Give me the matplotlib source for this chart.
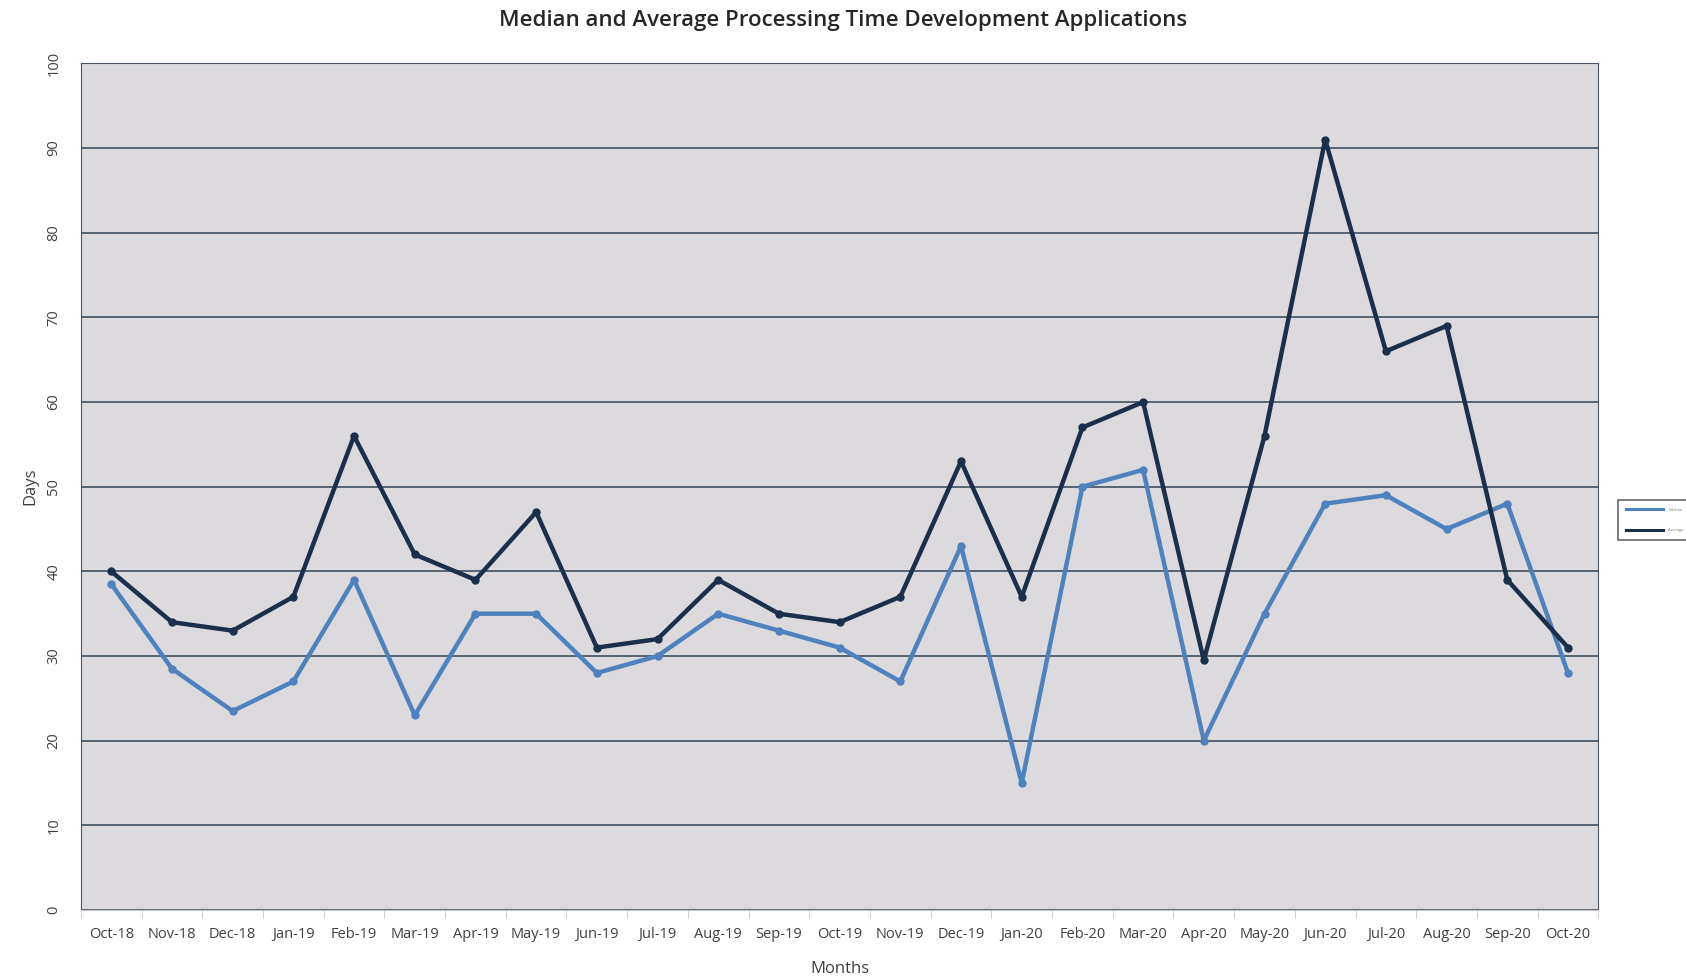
import matplotlib.pyplot as plt
from matplotlib.lines import Line2D
import numpy as np

months = ["Oct-18", "Nov-18", "Dec-18", "Jan-19", "Feb-19", "Mar-19", "Apr-19", "May-19",
          "Jun-19", "Jul-19", "Aug-19", "Sep-19", "Oct-19", "Nov-19", "Dec-19", "Jan-20",
          "Feb-20", "Mar-20", "Apr-20", "May-20", "Jun-20", "Jul-20", "Aug-20", "Sep-20", "Oct-20"]
median_days = [38.5, 28.5, 23.5, 27, 39, 23, 35, 35, 28, 30, 35, 33, 31, 27, 43, 15,
               50, 52, 20, 35, 48, 49, 45, 48, 28]
average_days = [40, 34, 33, 37, 56, 42, 39, 47, 31, 32, 39, 35, 34, 37, 53, 37,
                57, 60, 29.5, 56, 91, 66, 69, 39, 31]

plt.rcParams['font.family'] = ['Open Sans', 'DejaVu Sans']

fig = plt.figure(figsize=(16.86, 9.76), dpi=100)
ax = fig.add_axes([0.048, 0.0676, 0.9, 0.8674])
ax.set_facecolor('#dcdadd')

x = np.arange(len(months))
ax.plot(x, median_days, color='#4f81bd', lw=3.2, marker='o', ms=5)
ax.plot(x, average_days, color='#1b2f4b', lw=3.2, marker='o', ms=5)

ax.set_ylim(0, 100)
ax.set_yticks(range(0, 101, 10))
ax.set_xlim(-0.5, len(months) - 0.5)
ax.set_xticks(x)
ax.set_xticklabels(months, fontsize=10.5, color='#404040')
ax.set_xticks(np.arange(-0.5, len(months), 1), minor=True)
ax.tick_params(axis='x', which='major', length=0, pad=12)
ax.tick_params(axis='x', which='minor', length=6, color='#c8c8c8')
ax.tick_params(axis='y', length=0, pad=14, labelsize=10.5, labelcolor='#404040', labelrotation=90)
for lab in ax.get_yticklabels():
    lab.set_va('center')

ax.grid(axis='y', color='#3f4f60', lw=1.2)
ax.set_axisbelow(True)
for side in ['left', 'right', 'top']:
    ax.spines[side].set_color('#4a5663')
ax.spines['bottom'].set_color('#c8c8c8')

ax.set_xlabel('Months', fontsize=12, color='#404040', labelpad=14)
ax.set_ylabel('Days', fontsize=12, color='#404040', labelpad=6)
fig.suptitle('Median and Average Processing Time Development Applications',
             fontsize=16, fontweight='semibold', color='#262626', y=0.99)

handles = [Line2D([], [], color='#4f81bd', lw=2.2), Line2D([], [], color='#1b2f4b', lw=2.2)]
leg = fig.legend(handles, ['Median', 'Average'], loc='upper left',
                 bbox_to_anchor=(0.9595, 0.488), fontsize=3, labelcolor='#808080',
                 handlelength=9, handletextpad=1.2, frameon=True, fancybox=False,
                 edgecolor='#404040', borderpad=1.9, labelspacing=4.0, borderaxespad=0)
leg.get_frame().set_linewidth(1.2)

fig.savefig('out.png', dpi=100)
